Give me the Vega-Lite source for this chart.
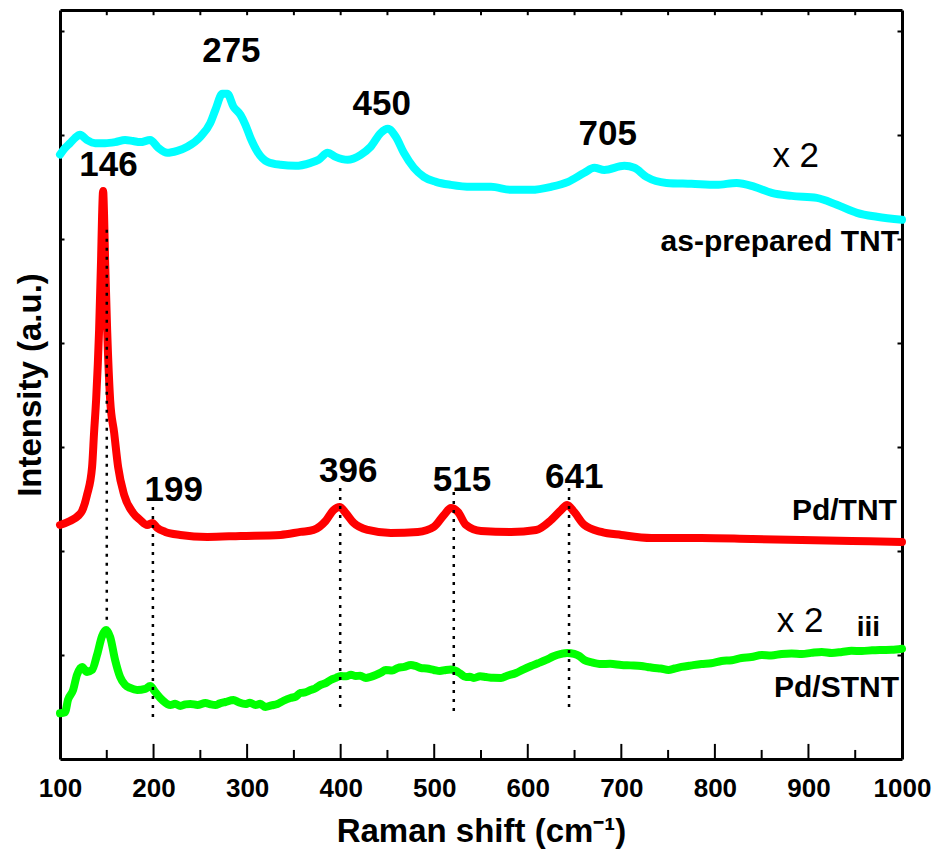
{
  "$schema": "https://vega.github.io/schema/vega-lite/v6.json",
  "width": 842,
  "height": 749,
  "autosize": "none",
  "padding": {"left": 60, "top": 10, "right": 36, "bottom": 99},
  "background": "white",
  "config": {
    "font": "Liberation Sans",
    "view": {"stroke": null},
    "axis": {"grid": false, "labelFont": "Liberation Sans", "titleFont": "Liberation Sans", "labelColor": "black", "titleColor": "black", "tickColor": "black", "tickWidth": 2, "domain": false, "domainColor": "black", "domainWidth": 3}
  },
  "datasets": {
    "spectra": [
      {"series": "as-prepared TNT", "shift": 100, "intensity": 5.81},
      {"series": "as-prepared TNT", "shift": 105, "intensity": 5.87},
      {"series": "as-prepared TNT", "shift": 110.7, "intensity": 5.92},
      {"series": "as-prepared TNT", "shift": 116, "intensity": 5.97},
      {"series": "as-prepared TNT", "shift": 121.4, "intensity": 6.0},
      {"series": "as-prepared TNT", "shift": 128.9, "intensity": 5.95},
      {"series": "as-prepared TNT", "shift": 137.5, "intensity": 5.92},
      {"series": "as-prepared TNT", "shift": 148.2, "intensity": 5.92},
      {"series": "as-prepared TNT", "shift": 158.9, "intensity": 5.93},
      {"series": "as-prepared TNT", "shift": 169.6, "intensity": 5.95},
      {"series": "as-prepared TNT", "shift": 178, "intensity": 5.94},
      {"series": "as-prepared TNT", "shift": 185.7, "intensity": 5.93},
      {"series": "as-prepared TNT", "shift": 196.4, "intensity": 5.95},
      {"series": "as-prepared TNT", "shift": 205, "intensity": 5.875},
      {"series": "as-prepared TNT", "shift": 214.6, "intensity": 5.827},
      {"series": "as-prepared TNT", "shift": 225.4, "intensity": 5.846},
      {"series": "as-prepared TNT", "shift": 236.1, "intensity": 5.885},
      {"series": "as-prepared TNT", "shift": 250, "intensity": 5.981},
      {"series": "as-prepared TNT", "shift": 260.7, "intensity": 6.115},
      {"series": "as-prepared TNT", "shift": 266.1, "intensity": 6.24},
      {"series": "as-prepared TNT", "shift": 273.6, "intensity": 6.394},
      {"series": "as-prepared TNT", "shift": 278.9, "intensity": 6.394},
      {"series": "as-prepared TNT", "shift": 285.4, "intensity": 6.27},
      {"series": "as-prepared TNT", "shift": 292.9, "intensity": 6.192},
      {"series": "as-prepared TNT", "shift": 298.2, "intensity": 6.096},
      {"series": "as-prepared TNT", "shift": 303.6, "intensity": 5.971},
      {"series": "as-prepared TNT", "shift": 311.1, "intensity": 5.837},
      {"series": "as-prepared TNT", "shift": 321.8, "intensity": 5.74},
      {"series": "as-prepared TNT", "shift": 335.7, "intensity": 5.712},
      {"series": "as-prepared TNT", "shift": 351.8, "intensity": 5.702},
      {"series": "as-prepared TNT", "shift": 367.9, "intensity": 5.731},
      {"series": "as-prepared TNT", "shift": 376.4, "intensity": 5.76},
      {"series": "as-prepared TNT", "shift": 386.1, "intensity": 5.827},
      {"series": "as-prepared TNT", "shift": 394.6, "intensity": 5.788},
      {"series": "as-prepared TNT", "shift": 407.5, "intensity": 5.76},
      {"series": "as-prepared TNT", "shift": 421.4, "intensity": 5.808},
      {"series": "as-prepared TNT", "shift": 432.1, "intensity": 5.885},
      {"series": "as-prepared TNT", "shift": 442.9, "intensity": 6.019},
      {"series": "as-prepared TNT", "shift": 450.4, "intensity": 6.058},
      {"series": "as-prepared TNT", "shift": 458.9, "intensity": 5.981},
      {"series": "as-prepared TNT", "shift": 467.5, "intensity": 5.827},
      {"series": "as-prepared TNT", "shift": 478.2, "intensity": 5.683},
      {"series": "as-prepared TNT", "shift": 488.9, "intensity": 5.596},
      {"series": "as-prepared TNT", "shift": 501.8, "intensity": 5.548},
      {"series": "as-prepared TNT", "shift": 517.9, "intensity": 5.519},
      {"series": "as-prepared TNT", "shift": 539.3, "intensity": 5.5},
      {"series": "as-prepared TNT", "shift": 560.7, "intensity": 5.5},
      {"series": "as-prepared TNT", "shift": 582.1, "intensity": 5.471},
      {"series": "as-prepared TNT", "shift": 603.6, "intensity": 5.471},
      {"series": "as-prepared TNT", "shift": 625, "intensity": 5.5},
      {"series": "as-prepared TNT", "shift": 643.2, "intensity": 5.548},
      {"series": "as-prepared TNT", "shift": 660.4, "intensity": 5.635},
      {"series": "as-prepared TNT", "shift": 671.1, "intensity": 5.683},
      {"series": "as-prepared TNT", "shift": 681.8, "intensity": 5.663},
      {"series": "as-prepared TNT", "shift": 703.2, "intensity": 5.702},
      {"series": "as-prepared TNT", "shift": 713.9, "intensity": 5.683},
      {"series": "as-prepared TNT", "shift": 726.8, "intensity": 5.596},
      {"series": "as-prepared TNT", "shift": 748.2, "intensity": 5.538},
      {"series": "as-prepared TNT", "shift": 775, "intensity": 5.529},
      {"series": "as-prepared TNT", "shift": 801.8, "intensity": 5.519},
      {"series": "as-prepared TNT", "shift": 823.2, "intensity": 5.538},
      {"series": "as-prepared TNT", "shift": 842.5, "intensity": 5.5},
      {"series": "as-prepared TNT", "shift": 860.7, "intensity": 5.442},
      {"series": "as-prepared TNT", "shift": 882.1, "intensity": 5.413},
      {"series": "as-prepared TNT", "shift": 908.9, "intensity": 5.394},
      {"series": "as-prepared TNT", "shift": 930.4, "intensity": 5.327},
      {"series": "as-prepared TNT", "shift": 951.8, "intensity": 5.25},
      {"series": "as-prepared TNT", "shift": 973.2, "intensity": 5.212},
      {"series": "as-prepared TNT", "shift": 1000, "intensity": 5.183},

      {"series": "Pd/TNT", "shift": 100, "intensity": 2.25},
      {"series": "Pd/TNT", "shift": 110.7, "intensity": 2.288},
      {"series": "Pd/TNT", "shift": 119.3, "intensity": 2.337},
      {"series": "Pd/TNT", "shift": 123.6, "intensity": 2.385},
      {"series": "Pd/TNT", "shift": 128.9, "intensity": 2.538},
      {"series": "Pd/TNT", "shift": 134.3, "intensity": 2.808},
      {"series": "Pd/TNT", "shift": 136.4, "intensity": 3.135},
      {"series": "Pd/TNT", "shift": 138.6, "intensity": 3.452},
      {"series": "Pd/TNT", "shift": 141.8, "intensity": 4.125},
      {"series": "Pd/TNT", "shift": 143.9, "intensity": 4.798},
      {"series": "Pd/TNT", "shift": 145, "intensity": 5.231},
      {"series": "Pd/TNT", "shift": 146.1, "intensity": 5.46},
      {"series": "Pd/TNT", "shift": 147.1, "intensity": 5.231},
      {"series": "Pd/TNT", "shift": 148.2, "intensity": 4.798},
      {"series": "Pd/TNT", "shift": 150.4, "intensity": 4.125},
      {"series": "Pd/TNT", "shift": 153.6, "intensity": 3.452},
      {"series": "Pd/TNT", "shift": 157.9, "intensity": 3.135},
      {"series": "Pd/TNT", "shift": 162.1, "intensity": 2.808},
      {"series": "Pd/TNT", "shift": 168.6, "intensity": 2.538},
      {"series": "Pd/TNT", "shift": 178.2, "intensity": 2.365},
      {"series": "Pd/TNT", "shift": 185.7, "intensity": 2.298},
      {"series": "Pd/TNT", "shift": 193.2, "intensity": 2.25},
      {"series": "Pd/TNT", "shift": 198.6, "intensity": 2.269},
      {"series": "Pd/TNT", "shift": 203.9, "intensity": 2.221},
      {"series": "Pd/TNT", "shift": 212.5, "intensity": 2.183},
      {"series": "Pd/TNT", "shift": 228.6, "intensity": 2.154},
      {"series": "Pd/TNT", "shift": 257.5, "intensity": 2.135},
      {"series": "Pd/TNT", "shift": 292.9, "intensity": 2.144},
      {"series": "Pd/TNT", "shift": 335.7, "intensity": 2.154},
      {"series": "Pd/TNT", "shift": 357.1, "intensity": 2.183},
      {"series": "Pd/TNT", "shift": 371.1, "intensity": 2.202},
      {"series": "Pd/TNT", "shift": 383.9, "intensity": 2.288},
      {"series": "Pd/TNT", "shift": 392.5, "intensity": 2.394},
      {"series": "Pd/TNT", "shift": 398.9, "intensity": 2.423},
      {"series": "Pd/TNT", "shift": 405.4, "intensity": 2.365},
      {"series": "Pd/TNT", "shift": 413.9, "intensity": 2.269},
      {"series": "Pd/TNT", "shift": 428.9, "intensity": 2.202},
      {"series": "Pd/TNT", "shift": 453.6, "intensity": 2.173},
      {"series": "Pd/TNT", "shift": 482.5, "intensity": 2.183},
      {"series": "Pd/TNT", "shift": 499.6, "intensity": 2.231},
      {"series": "Pd/TNT", "shift": 510.4, "intensity": 2.346},
      {"series": "Pd/TNT", "shift": 517.9, "intensity": 2.413},
      {"series": "Pd/TNT", "shift": 525.4, "intensity": 2.375},
      {"series": "Pd/TNT", "shift": 533.9, "intensity": 2.25},
      {"series": "Pd/TNT", "shift": 550, "intensity": 2.192},
      {"series": "Pd/TNT", "shift": 582.1, "intensity": 2.183},
      {"series": "Pd/TNT", "shift": 608.9, "intensity": 2.202},
      {"series": "Pd/TNT", "shift": 625, "intensity": 2.298},
      {"series": "Pd/TNT", "shift": 635.7, "intensity": 2.394},
      {"series": "Pd/TNT", "shift": 642.1, "intensity": 2.442},
      {"series": "Pd/TNT", "shift": 649.6, "intensity": 2.375},
      {"series": "Pd/TNT", "shift": 660.4, "intensity": 2.25},
      {"series": "Pd/TNT", "shift": 678.6, "intensity": 2.183},
      {"series": "Pd/TNT", "shift": 700, "intensity": 2.154},
      {"series": "Pd/TNT", "shift": 732.1, "intensity": 2.125},
      {"series": "Pd/TNT", "shift": 785.7, "intensity": 2.125},
      {"series": "Pd/TNT", "shift": 839.3, "intensity": 2.115},
      {"series": "Pd/TNT", "shift": 892.9, "intensity": 2.106},
      {"series": "Pd/TNT", "shift": 946.4, "intensity": 2.096},
      {"series": "Pd/TNT", "shift": 1000, "intensity": 2.087},

      {"series": "Pd/STNT", "shift": 100, "intensity": 0.44},
      {"series": "Pd/STNT", "shift": 105.4, "intensity": 0.45},
      {"series": "Pd/STNT", "shift": 108.6, "intensity": 0.57},
      {"series": "Pd/STNT", "shift": 113.9, "intensity": 0.66},
      {"series": "Pd/STNT", "shift": 118.2, "intensity": 0.81},
      {"series": "Pd/STNT", "shift": 123.6, "intensity": 0.885},
      {"series": "Pd/STNT", "shift": 128.9, "intensity": 0.837},
      {"series": "Pd/STNT", "shift": 134.3, "intensity": 0.856},
      {"series": "Pd/STNT", "shift": 139.6, "intensity": 1.0},
      {"series": "Pd/STNT", "shift": 145, "intensity": 1.183},
      {"series": "Pd/STNT", "shift": 149.3, "intensity": 1.24},
      {"series": "Pd/STNT", "shift": 153.6, "intensity": 1.173},
      {"series": "Pd/STNT", "shift": 158.9, "intensity": 0.952},
      {"series": "Pd/STNT", "shift": 164.3, "intensity": 0.788},
      {"series": "Pd/STNT", "shift": 169.6, "intensity": 0.712},
      {"series": "Pd/STNT", "shift": 175, "intensity": 0.683},
      {"series": "Pd/STNT", "shift": 182.5, "intensity": 0.663},
      {"series": "Pd/STNT", "shift": 191.1, "intensity": 0.673},
      {"series": "Pd/STNT", "shift": 196.4, "intensity": 0.702},
      {"series": "Pd/STNT", "shift": 201.8, "intensity": 0.644},
      {"series": "Pd/STNT", "shift": 209.3, "intensity": 0.567},
      {"series": "Pd/STNT", "shift": 217.9, "intensity": 0.519},
      {"series": "Pd/STNT", "shift": 223, "intensity": 0.53},
      {"series": "Pd/STNT", "shift": 228.6, "intensity": 0.51},
      {"series": "Pd/STNT", "shift": 234, "intensity": 0.525},
      {"series": "Pd/STNT", "shift": 239.3, "intensity": 0.529},
      {"series": "Pd/STNT", "shift": 247, "intensity": 0.52},
      {"series": "Pd/STNT", "shift": 255.4, "intensity": 0.538},
      {"series": "Pd/STNT", "shift": 261, "intensity": 0.525},
      {"series": "Pd/STNT", "shift": 266.1, "intensity": 0.519},
      {"series": "Pd/STNT", "shift": 271, "intensity": 0.535},
      {"series": "Pd/STNT", "shift": 276.8, "intensity": 0.548},
      {"series": "Pd/STNT", "shift": 285.4, "intensity": 0.567},
      {"series": "Pd/STNT", "shift": 291, "intensity": 0.545},
      {"series": "Pd/STNT", "shift": 298.2, "intensity": 0.529},
      {"series": "Pd/STNT", "shift": 303, "intensity": 0.54},
      {"series": "Pd/STNT", "shift": 308.9, "intensity": 0.519},
      {"series": "Pd/STNT", "shift": 314, "intensity": 0.53},
      {"series": "Pd/STNT", "shift": 319.6, "intensity": 0.5},
      {"series": "Pd/STNT", "shift": 326, "intensity": 0.515},
      {"series": "Pd/STNT", "shift": 332.5, "intensity": 0.529},
      {"series": "Pd/STNT", "shift": 339, "intensity": 0.56},
      {"series": "Pd/STNT", "shift": 346.4, "intensity": 0.587},
      {"series": "Pd/STNT", "shift": 352, "intensity": 0.6},
      {"series": "Pd/STNT", "shift": 357.1, "intensity": 0.635},
      {"series": "Pd/STNT", "shift": 362, "intensity": 0.64},
      {"series": "Pd/STNT", "shift": 367.9, "intensity": 0.663},
      {"series": "Pd/STNT", "shift": 373, "intensity": 0.68},
      {"series": "Pd/STNT", "shift": 378.6, "intensity": 0.712},
      {"series": "Pd/STNT", "shift": 384, "intensity": 0.73},
      {"series": "Pd/STNT", "shift": 389.3, "intensity": 0.76},
      {"series": "Pd/STNT", "shift": 395, "intensity": 0.78},
      {"series": "Pd/STNT", "shift": 400, "intensity": 0.798},
      {"series": "Pd/STNT", "shift": 406, "intensity": 0.795},
      {"series": "Pd/STNT", "shift": 411, "intensity": 0.81},
      {"series": "Pd/STNT", "shift": 416.1, "intensity": 0.798},
      {"series": "Pd/STNT", "shift": 421, "intensity": 0.8},
      {"series": "Pd/STNT", "shift": 426.8, "intensity": 0.779},
      {"series": "Pd/STNT", "shift": 432, "intensity": 0.79},
      {"series": "Pd/STNT", "shift": 437.5, "intensity": 0.808},
      {"series": "Pd/STNT", "shift": 443, "intensity": 0.83},
      {"series": "Pd/STNT", "shift": 448.2, "intensity": 0.856},
      {"series": "Pd/STNT", "shift": 455, "intensity": 0.85},
      {"series": "Pd/STNT", "shift": 461.1, "intensity": 0.875},
      {"series": "Pd/STNT", "shift": 468, "intensity": 0.885},
      {"series": "Pd/STNT", "shift": 475, "intensity": 0.904},
      {"series": "Pd/STNT", "shift": 480, "intensity": 0.895},
      {"series": "Pd/STNT", "shift": 485.7, "intensity": 0.875},
      {"series": "Pd/STNT", "shift": 492, "intensity": 0.87},
      {"series": "Pd/STNT", "shift": 499.6, "intensity": 0.856},
      {"series": "Pd/STNT", "shift": 506, "intensity": 0.845},
      {"series": "Pd/STNT", "shift": 512.5, "intensity": 0.856},
      {"series": "Pd/STNT", "shift": 518, "intensity": 0.86},
      {"series": "Pd/STNT", "shift": 523.2, "intensity": 0.846},
      {"series": "Pd/STNT", "shift": 528, "intensity": 0.82},
      {"series": "Pd/STNT", "shift": 533.9, "intensity": 0.788},
      {"series": "Pd/STNT", "shift": 538, "intensity": 0.79},
      {"series": "Pd/STNT", "shift": 542.5, "intensity": 0.779},
      {"series": "Pd/STNT", "shift": 549, "intensity": 0.795},
      {"series": "Pd/STNT", "shift": 555.4, "intensity": 0.788},
      {"series": "Pd/STNT", "shift": 563, "intensity": 0.78},
      {"series": "Pd/STNT", "shift": 571.4, "intensity": 0.779},
      {"series": "Pd/STNT", "shift": 578, "intensity": 0.8},
      {"series": "Pd/STNT", "shift": 587.5, "intensity": 0.827},
      {"series": "Pd/STNT", "shift": 595, "intensity": 0.86},
      {"series": "Pd/STNT", "shift": 603.6, "intensity": 0.894},
      {"series": "Pd/STNT", "shift": 611, "intensity": 0.92},
      {"series": "Pd/STNT", "shift": 619.6, "intensity": 0.952},
      {"series": "Pd/STNT", "shift": 627, "intensity": 0.985},
      {"series": "Pd/STNT", "shift": 635.7, "intensity": 1.01},
      {"series": "Pd/STNT", "shift": 642, "intensity": 1.02},
      {"series": "Pd/STNT", "shift": 649.6, "intensity": 1.01},
      {"series": "Pd/STNT", "shift": 655, "intensity": 0.99},
      {"series": "Pd/STNT", "shift": 660.4, "intensity": 0.952},
      {"series": "Pd/STNT", "shift": 668, "intensity": 0.93},
      {"series": "Pd/STNT", "shift": 678.6, "intensity": 0.913},
      {"series": "Pd/STNT", "shift": 688, "intensity": 0.915},
      {"series": "Pd/STNT", "shift": 700, "intensity": 0.904},
      {"series": "Pd/STNT", "shift": 710, "intensity": 0.9},
      {"series": "Pd/STNT", "shift": 721.4, "intensity": 0.894},
      {"series": "Pd/STNT", "shift": 728, "intensity": 0.885},
      {"series": "Pd/STNT", "shift": 735.4, "intensity": 0.875},
      {"series": "Pd/STNT", "shift": 742, "intensity": 0.87},
      {"series": "Pd/STNT", "shift": 750.4, "intensity": 0.856},
      {"series": "Pd/STNT", "shift": 757, "intensity": 0.87},
      {"series": "Pd/STNT", "shift": 764.3, "intensity": 0.885},
      {"series": "Pd/STNT", "shift": 775, "intensity": 0.9},
      {"series": "Pd/STNT", "shift": 785.7, "intensity": 0.913},
      {"series": "Pd/STNT", "shift": 796, "intensity": 0.92},
      {"series": "Pd/STNT", "shift": 807.1, "intensity": 0.942},
      {"series": "Pd/STNT", "shift": 818, "intensity": 0.95},
      {"series": "Pd/STNT", "shift": 828.6, "intensity": 0.971},
      {"series": "Pd/STNT", "shift": 839, "intensity": 0.98},
      {"series": "Pd/STNT", "shift": 850, "intensity": 1.0},
      {"series": "Pd/STNT", "shift": 860, "intensity": 0.995},
      {"series": "Pd/STNT", "shift": 871.4, "intensity": 1.01},
      {"series": "Pd/STNT", "shift": 882, "intensity": 1.015},
      {"series": "Pd/STNT", "shift": 892.9, "intensity": 1.01},
      {"series": "Pd/STNT", "shift": 903, "intensity": 1.02},
      {"series": "Pd/STNT", "shift": 914.3, "intensity": 1.029},
      {"series": "Pd/STNT", "shift": 925, "intensity": 1.02},
      {"series": "Pd/STNT", "shift": 935.7, "intensity": 1.029},
      {"series": "Pd/STNT", "shift": 946, "intensity": 1.04},
      {"series": "Pd/STNT", "shift": 957.1, "intensity": 1.038},
      {"series": "Pd/STNT", "shift": 968, "intensity": 1.045},
      {"series": "Pd/STNT", "shift": 978.6, "intensity": 1.048},
      {"series": "Pd/STNT", "shift": 989, "intensity": 1.05},
      {"series": "Pd/STNT", "shift": 1000, "intensity": 1.06}
    ],
    "markers": [
      {"shift": 150, "top": 5.087, "bottom": 1.317},
      {"shift": 199.3, "top": 2.423, "bottom": 0.375},
      {"shift": 399.5, "top": 2.606, "bottom": 0.442},
      {"shift": 520.9, "top": 2.567, "bottom": 0.404},
      {"shift": 644.1, "top": 2.606, "bottom": 0.442}
    ],
    "xticks": [
      {"shift": 150, "kind": "minor"}, {"shift": 200, "kind": "major"},
      {"shift": 250, "kind": "minor"}, {"shift": 300, "kind": "major"},
      {"shift": 350, "kind": "minor"}, {"shift": 400, "kind": "major"},
      {"shift": 450, "kind": "minor"}, {"shift": 500, "kind": "major"},
      {"shift": 550, "kind": "minor"}, {"shift": 600, "kind": "major"},
      {"shift": 650, "kind": "minor"}, {"shift": 700, "kind": "major"},
      {"shift": 750, "kind": "minor"}, {"shift": 800, "kind": "major"},
      {"shift": 850, "kind": "minor"}, {"shift": 900, "kind": "major"},
      {"shift": 950, "kind": "minor"}
    ],
    "labels": [
      {"kind": "peak", "shift": 151.8, "intensity": 5.712, "text": "146"},
      {"kind": "peak", "shift": 283.2, "intensity": 6.803, "text": "275"},
      {"kind": "peak", "shift": 443.9, "intensity": 6.298, "text": "450"},
      {"kind": "peak", "shift": 685.5, "intensity": 6.01, "text": "705"},
      {"kind": "peak", "shift": 221.6, "intensity": 2.587, "text": "199"},
      {"kind": "peak", "shift": 408, "intensity": 2.764, "text": "396"},
      {"kind": "peak", "shift": 529.6, "intensity": 2.683, "text": "515"},
      {"kind": "peak", "shift": 649.6, "intensity": 2.707, "text": "641"},
      {"kind": "name", "shift": 996.8, "intensity": 4.971, "text": "as-prepared TNT"},
      {"kind": "name", "shift": 994.6, "intensity": 2.38, "text": "Pd/TNT"},
      {"kind": "name", "shift": 996.8, "intensity": 0.678, "text": "Pd/STNT"},
      {"kind": "factor", "shift": 886.4, "intensity": 5.798, "text": "x 2"},
      {"kind": "factor", "shift": 891.2, "intensity": 1.327, "text": "x 2"},
      {"kind": "tag", "shift": 964.1, "intensity": 1.26, "text": "iii"}
    ]
  },
  "resolve": {"axis": {"x": "independent", "y": "independent"}},
  "layer": [
    {
      "data": {"name": "spectra"},
      "transform": [{"filter": "datum.series === 'as-prepared TNT'"}],
      "mark": {"type": "line", "color": "#00FFFF", "strokeWidth": 8, "interpolate": "monotone", "strokeJoin": "round", "strokeCap": "round"},
      "encoding": {
        "x": {"field": "shift", "type": "quantitative", "scale": {"domain": [100, 1000], "nice": false, "zero": false},
          "axis": {"orient": "bottom", "values": [100, 200, 300, 400, 500, 600, 700, 800, 900, 1000], "format": "d", "ticks": false, "domain": true, "labelPadding": 16, "labelFontSize": 26, "labelFontWeight": "bold", "labelFlush": false, "labelOverlap": false, "title": "Raman shift (cm⁻¹)", "titleFontSize": 33, "titleFontWeight": "bold", "titlePadding": 14}},
        "y": {"field": "intensity", "type": "quantitative", "scale": {"domain": [0, 7.2], "nice": false, "zero": false},
          "axis": {"orient": "left", "values": [1, 2, 3, 4, 5, 6, 7], "tickSize": -4, "labels": false, "domain": true, "title": "Intensity (a.u.)", "titleFontSize": 33, "titleFontWeight": "bold", "titlePadding": 12}}
      }
    },
    {
      "data": {"name": "spectra"},
      "transform": [{"filter": "datum.series === 'Pd/TNT'"}],
      "mark": {"type": "line", "color": "#FF0000", "strokeWidth": 8, "interpolate": "monotone", "strokeJoin": "round", "strokeCap": "round"},
      "encoding": {
        "x": {"field": "shift", "type": "quantitative", "scale": {"domain": [100, 1000], "nice": false, "zero": false},
          "axis": {"orient": "top", "ticks": false, "labels": false, "domain": true, "title": null}},
        "y": {"field": "intensity", "type": "quantitative", "scale": {"domain": [0, 7.2], "nice": false, "zero": false},
          "axis": {"orient": "right", "values": [1, 2, 3, 4, 5, 6, 7], "tickSize": -5, "labels": false, "domain": true, "title": null}}
      }
    },
    {
      "data": {"name": "spectra"},
      "transform": [{"filter": "datum.series === 'Pd/STNT'"}],
      "mark": {"type": "line", "color": "#00FF00", "strokeWidth": 8, "interpolate": "monotone", "strokeJoin": "round", "strokeCap": "round"},
      "encoding": {
        "x": {"field": "shift", "type": "quantitative", "scale": {"domain": [100, 1000], "nice": false, "zero": false}, "axis": null},
        "y": {"field": "intensity", "type": "quantitative", "scale": {"domain": [0, 7.2], "nice": false, "zero": false}, "axis": null}
      }
    },
    {
      "data": {"name": "xticks"},
      "transform": [{"filter": "datum.kind === 'major'"}],
      "mark": {"type": "rule", "color": "black", "strokeWidth": 2},
      "encoding": {
        "x": {"field": "shift", "type": "quantitative", "axis": null},
        "y": {"datum": 0, "type": "quantitative", "axis": null},
        "y2": {"datum": 0.145}
      }
    },
    {
      "data": {"name": "xticks"},
      "transform": [{"filter": "datum.kind === 'minor'"}],
      "mark": {"type": "rule", "color": "black", "strokeWidth": 2},
      "encoding": {
        "x": {"field": "shift", "type": "quantitative", "axis": null},
        "y": {"datum": 0, "type": "quantitative", "axis": null},
        "y2": {"datum": 0.087}
      }
    },
    {
      "data": {"name": "xticks"},
      "mark": {"type": "rule", "color": "black", "strokeWidth": 2},
      "encoding": {
        "x": {"field": "shift", "type": "quantitative", "axis": null},
        "y": {"datum": 7.2, "type": "quantitative", "axis": null},
        "y2": {"datum": 7.15}
      }
    },
    {
      "data": {"name": "markers"},
      "mark": {"type": "rule", "color": "black", "strokeWidth": 2.5, "strokeDash": [3, 6]},
      "encoding": {
        "x": {"field": "shift", "type": "quantitative", "axis": null},
        "y": {"field": "top", "type": "quantitative", "axis": null},
        "y2": {"field": "bottom"}
      }
    },
    {
      "data": {"name": "labels"},
      "transform": [{"filter": "datum.kind === 'peak'"}],
      "mark": {"type": "text", "font": "Liberation Sans", "fontSize": 35, "fontWeight": "bold", "align": "center", "baseline": "middle", "color": "black"},
      "encoding": {
        "x": {"field": "shift", "type": "quantitative", "axis": null},
        "y": {"field": "intensity", "type": "quantitative", "axis": null},
        "text": {"field": "text"}
      }
    },
    {
      "data": {"name": "labels"},
      "transform": [{"filter": "datum.kind === 'name'"}],
      "mark": {"type": "text", "font": "Liberation Sans", "fontSize": 30, "fontWeight": "bold", "align": "right", "baseline": "middle", "color": "black"},
      "encoding": {
        "x": {"field": "shift", "type": "quantitative", "axis": null},
        "y": {"field": "intensity", "type": "quantitative", "axis": null},
        "text": {"field": "text"}
      }
    },
    {
      "data": {"name": "labels"},
      "transform": [{"filter": "datum.kind === 'factor'"}],
      "mark": {"type": "text", "font": "Liberation Sans", "fontSize": 35, "fontWeight": "normal", "align": "center", "baseline": "middle", "color": "black"},
      "encoding": {
        "x": {"field": "shift", "type": "quantitative", "axis": null},
        "y": {"field": "intensity", "type": "quantitative", "axis": null},
        "text": {"field": "text"}
      }
    },
    {
      "data": {"name": "labels"},
      "transform": [{"filter": "datum.kind === 'tag'"}],
      "mark": {"type": "text", "font": "Liberation Sans", "fontSize": 28, "fontWeight": "bold", "align": "center", "baseline": "middle", "color": "black"},
      "encoding": {
        "x": {"field": "shift", "type": "quantitative", "axis": null},
        "y": {"field": "intensity", "type": "quantitative", "axis": null},
        "text": {"field": "text"}
      }
    }
  ]
}
